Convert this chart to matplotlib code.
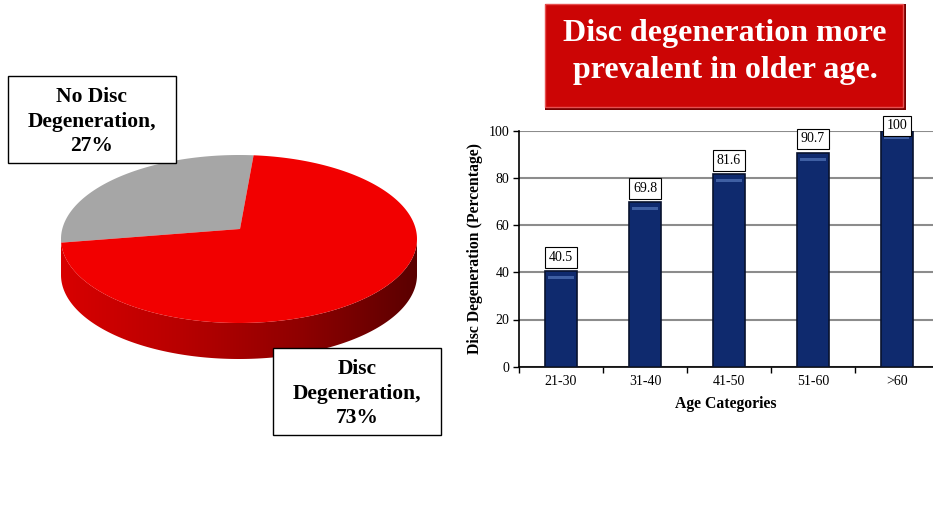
import numpy as np
import matplotlib.pyplot as plt
from matplotlib.patches import Polygon, Rectangle
from matplotlib.colors import LinearSegmentedColormap

plt.rcParams["font.family"] = ["Liberation Serif", "DejaVu Serif"]

# pie data
pie_labels = ["No Disc\nDegeneration,\n27%", "Disc\nDegeneration,\n73%"]
pie_values = [27, 73]
pie_colors = ["#a6a6a6", "#f20000"]

# bar data
age_groups = ["21-30", "31-40", "41-50", "51-60", ">60"]
disc_pct = [40.5, 69.8, 81.6, 90.7, 100]

fig = plt.figure(figsize=(9.33, 5.13), dpi=100)

# pixel-space canvas for the pie, the label boxes and the banner
ax0 = fig.add_axes([0, 0, 1, 1])
ax0.set_xlim(0, 933)
ax0.set_ylim(513, 0)
ax0.axis("off")

cx, cy = 239, 239      # centre of the top face
a, b = 178, 84         # ellipse semi axes
depth = 36
apex = (240, 229)

def rim(t0, t1, n=200, dy=0):
    t = np.radians(np.linspace(t0, t1, n))
    return np.column_stack([cx + a * np.cos(t), cy - b * np.sin(t) + dy])

# side wall of the front half, shaded darker towards the right
front = rim(180, 360)
side = np.vstack([front, rim(360, 180, dy=depth)])
side_patch = Polygon(side, closed=True, facecolor="none", edgecolor="none")
ax0.add_patch(side_patch)
grad = np.linspace(0, 1, 256)[None, :]
side_cmap = LinearSegmentedColormap.from_list(
    "side", ["#d80000", "#b80000", "#900000", "#5a0000"])
im = ax0.imshow(grad, cmap=side_cmap, extent=[cx - a, cx + a, cy + b + depth, cy - b],
                aspect="auto", zorder=1)
im.set_clip_path(side_patch)

# top face slices, the grey one ends just past the left edge
end_grey = 182.5
start = end_grey - pie_values[0] / sum(pie_values) * 360
angles = [start, end_grey, 360 + start]
for i in range(2):
    pts = np.vstack([[apex], rim(angles[i], angles[i + 1])])
    ax0.add_patch(Polygon(pts, closed=True, facecolor=pie_colors[i],
                          edgecolor="none", zorder=2))

# label boxes
boxes = [(8, 76, 168, 87), (273, 348, 168, 87)]
for (x, y, w, h), lab in zip(boxes, pie_labels):
    ax0.add_patch(Rectangle((x, y), w, h, facecolor="white", edgecolor="black",
                            lw=1.0, zorder=3))
    ax0.text(x + w / 2, y + h / 2 + 2, lab, ha="center", va="center",
             fontsize=15.5, fontweight="bold", linespacing=1.33, zorder=4)

# banner
ax0.add_patch(Rectangle((545, 4), 361, 106, facecolor="#760000", edgecolor="none", zorder=2))
ax0.add_patch(Rectangle((545, 4), 358, 103, facecolor="#cc0505", edgecolor="#e65050",
                        lw=1.0, zorder=3))
ax0.text(725, 52, "Disc degeneration more\nprevalent in older age.", ha="center",
         va="center", color="white", fontsize=23, fontweight="bold",
         linespacing=1.38, zorder=4)

# bar chart
ax = fig.add_axes([519 / 933, 1 - 366.7 / 513, (933 - 519) / 933, 236 / 513])
x = np.arange(len(age_groups))
ax.bar(x, disc_pct, width=0.39, color="#0f2a6e", edgecolor="#08122e", lw=1.2, zorder=3)
ax.bar(x, [1.2] * len(x), bottom=np.array(disc_pct) - 3.4, width=0.3,
       color="#3f5fa3", zorder=4)
for xi, v in zip(x, disc_pct):
    ax.text(xi, min(v + 5.8, 102), f"{v:g}", ha="center", va="center", fontsize=10,
            bbox=dict(boxstyle="square,pad=0.28", facecolor="white",
                      edgecolor="black", lw=0.8), zorder=5, clip_on=False)

ax.set_xlim(-0.5, 4.43)
ax.set_ylim(0, 100)
ax.set_yticks([0, 20, 40, 60, 80, 100])
ax.set_xticks([-0.5, 0.5, 1.5, 2.5, 3.5])
ax.set_xticklabels([])
ax.set_xticks(x, minor=True)
ax.set_xticklabels(age_groups, minor=True)
ax.tick_params(axis="x", which="minor", length=0, pad=6, labelsize=10)
ax.tick_params(axis="x", which="major", length=4, width=1, direction="out")
ax.tick_params(axis="y", length=4, width=1, labelsize=10, pad=3)
ax.yaxis.grid(True, color="#8c8c8c", lw=1.5, zorder=0)
ax.set_axisbelow(True)
for s in ["top", "right"]:
    ax.spines[s].set_visible(False)
ax.spines["left"].set_linewidth(1.2)
ax.spines["bottom"].set_linewidth(1.2)
ax.set_ylabel("Disc Degeneration (Percentage)", fontsize=11.3, fontweight="bold",
              labelpad=4)
ax.set_xlabel("Age Categories", fontsize=11.3, fontweight="bold", labelpad=6)

fig.savefig("out.png", dpi=100)
